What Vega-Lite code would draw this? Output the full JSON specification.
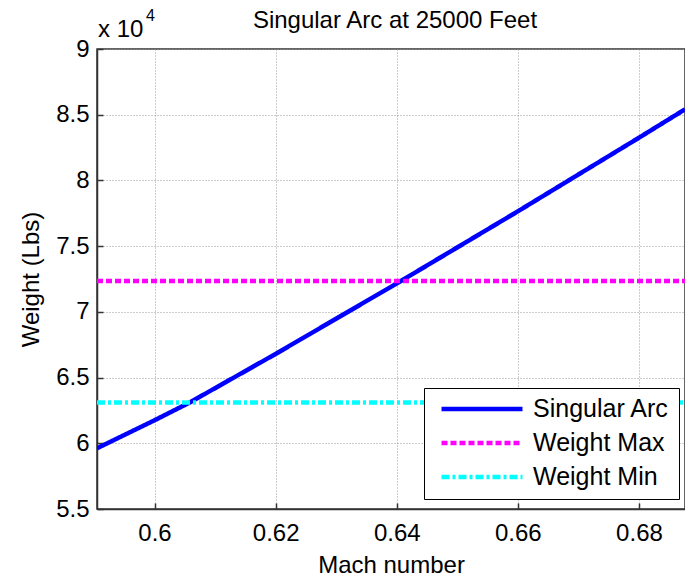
{
  "$schema": "https://vega.github.io/schema/vega-lite/v6.json",
  "width": 588,
  "height": 460,
  "autosize": {"type": "none"},
  "padding": {"left": 97, "top": 49, "right": 0, "bottom": 72},
  "background": "white",
  "config": {
    "font": "Liberation Sans",
    "view": {"stroke": "#333333", "strokeWidth": 1.5},
    "axis": {"labelFont": "Liberation Sans", "titleFont": "Liberation Sans", "labelColor": "black", "titleColor": "black", "labelFontSize": 24, "titleFontSize": 24, "titleFontWeight": "normal", "domainColor": "#333333", "domainWidth": 1.5, "tickColor": "#333333", "tickWidth": 1.5, "gridColor": "#999999", "gridDash": [1, 2], "gridWidth": 1, "gridOpacity": 1}
  },
  "title": {"text": "Singular Arc at 25000 Feet", "font": "Liberation Sans", "fontSize": 24, "fontWeight": "normal", "color": "black", "anchor": "middle", "dx": 4, "offset": -44, "baseline": "alphabetic"},
  "data": {"values": [
    {"series": "Singular Arc", "mach": 0.5905, "w": 59620},
    {"series": "Singular Arc", "mach": 0.6, "w": 61750},
    {"series": "Singular Arc", "mach": 0.6058, "w": 63100},
    {"series": "Singular Arc", "mach": 0.62, "w": 66800},
    {"series": "Singular Arc", "mach": 0.6407, "w": 72350},
    {"series": "Singular Arc", "mach": 0.66, "w": 77650},
    {"series": "Singular Arc", "mach": 0.68, "w": 83250},
    {"series": "Singular Arc", "mach": 0.6876, "w": 85410},
    {"series": "Weight Max", "mach": 0.5905, "w": 72350},
    {"series": "Weight Max", "mach": 0.6876, "w": 72350},
    {"series": "Weight Min", "mach": 0.5905, "w": 63100},
    {"series": "Weight Min", "mach": 0.6876, "w": 63100}
  ]},
  "layer": [
    {
      "mark": {"type": "line", "strokeWidth": 4.5, "strokeCap": "butt", "clip": true},
      "encoding": {
        "x": {"field": "mach", "type": "quantitative", "scale": {"domain": [0.5905, 0.6876], "nice": false, "zero": false},
          "axis": {"orient": "bottom", "title": "Mach number", "values": [0.6, 0.62, 0.64, 0.66, 0.68], "format": ".2~f", "tickSize": -6, "labelPadding": 18, "titlePadding": 8, "grid": true}},
        "y": {"field": "w", "type": "quantitative", "scale": {"domain": [55000, 90000], "nice": false, "zero": false},
          "axis": {"title": "Weight (Lbs)", "values": [55000, 60000, 65000, 70000, 75000, 80000, 85000, 90000], "labelExpr": "datum.value / 10000", "tickSize": -6, "labelPadding": 14, "titlePadding": 12, "grid": true}},
        "color": {"field": "series", "type": "nominal", "scale": {"domain": ["Singular Arc", "Weight Max", "Weight Min"], "range": ["#0000ff", "#ff00ff", "#00ffff"]},
          "legend": {"title": null, "orient": "none", "legendX": 327, "legendY": 339, "symbolType": "stroke", "symbolSize": 6561, "symbolStrokeWidth": 4.5, "clipHeight": 24, "labelFontSize": 25, "labelFont": "Liberation Sans", "labelColor": "black", "labelOffset": 8, "symbolOffset": 6, "rowPadding": 9, "padding": 9, "strokeColor": "black", "fillColor": "white", "labelLimit": 300}},
        "strokeDash": {"field": "series", "type": "nominal", "scale": {"domain": ["Singular Arc", "Weight Max", "Weight Min"], "range": [[1, 0], [6, 3], [8, 3, 3, 3]]}, "legend": null}
      }
    },
    {
      "data": {"values": [{"label": "x 10"}]},
      "mark": {"type": "text", "align": "left", "baseline": "alphabetic", "fontSize": 24, "font": "Liberation Sans", "color": "black", "dy": -12, "dx": 1},
      "encoding": {
        "x": {"datum": 0.5905, "type": "quantitative"},
        "y": {"datum": 90000, "type": "quantitative"},
        "text": {"field": "label"}
      }
    },
    {
      "data": {"values": [{"label": "4"}]},
      "mark": {"type": "text", "align": "left", "baseline": "alphabetic", "fontSize": 16, "font": "Liberation Sans", "color": "black", "dy": -28, "dx": 49},
      "encoding": {
        "x": {"datum": 0.5905, "type": "quantitative"},
        "y": {"datum": 90000, "type": "quantitative"},
        "text": {"field": "label"}
      }
    }
  ]
}
